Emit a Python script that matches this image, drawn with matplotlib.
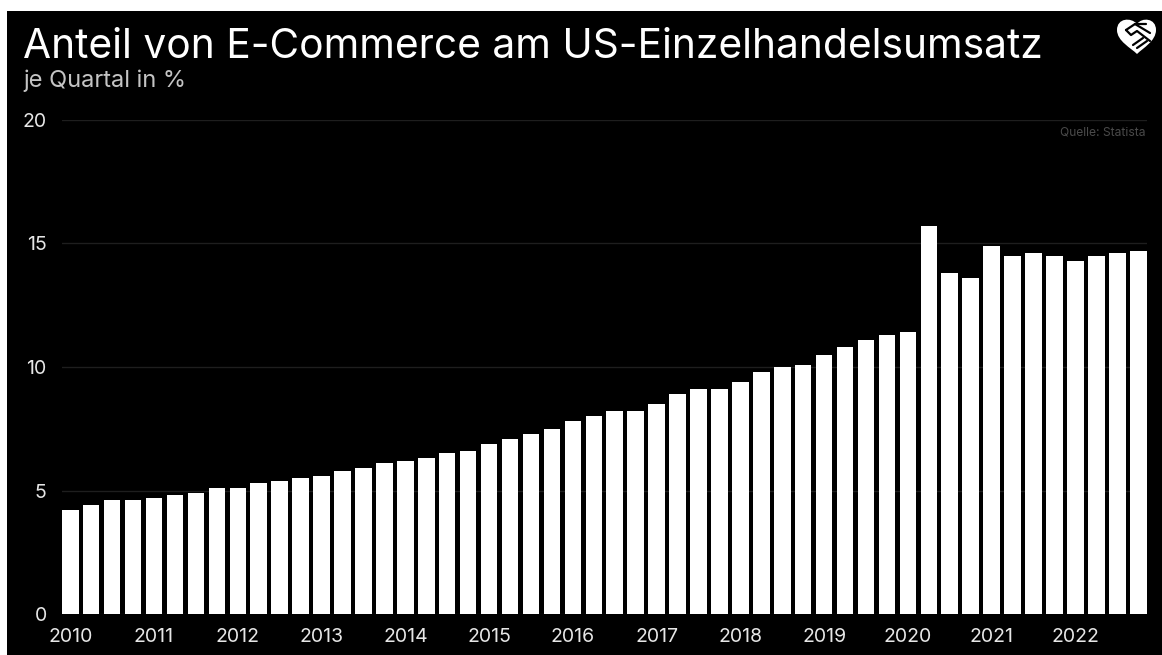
import matplotlib
matplotlib.use("Agg")
from matplotlib import pyplot as plt
from matplotlib.patches import PathPatch, Rectangle
from matplotlib.path import Path
import numpy as np

FONT = ["Inter", "DejaVu Sans"]
W, H = 1162, 655

# ------------------------------
# Data
# ------------------------------
years = [2010, 2011, 2012, 2013, 2014, 2015, 2016, 2017, 2018, 2019, 2020, 2021, 2022]
shares_2010_2014 = [4.2, 4.4, 4.6, 4.6, 4.7, 4.8, 4.9, 5.1, 5.1, 5.3,
                    5.4, 5.5, 5.6, 5.8, 5.9, 6.1, 6.2, 6.3, 6.5, 6.6]
shares_2015_2019 = [6.9, 7.1, 7.3, 7.5, 7.8, 8.0, 8.2, 8.2, 8.5, 8.9,
                    9.1, 9.1, 9.4, 9.8, 10.0, 10.1, 10.5, 10.8, 11.1, 11.3]
shares_2020_2022 = [11.4, 15.7, 13.8, 13.6, 14.9, 14.5, 14.6, 14.5, 14.3, 14.5, 14.6, 14.7]
y_ticks = [0, 5, 10, 15, 20]

shares = shares_2010_2014 + shares_2015_2019 + shares_2020_2022
quarters = np.arange(len(shares))

fig = plt.figure(figsize=(W / 100, H / 100), dpi=100, facecolor="white")

# ------------------------------
# Black panel and header (pixel coordinates)
# ------------------------------
deco = fig.add_axes([0, 0, 1, 1])
deco.set_xlim(0, W)
deco.set_ylim(H, 0)
deco.axis("off")
deco.add_patch(Rectangle((7, 11), W - 7, H - 11, facecolor="black", edgecolor="none"))

deco.text(23, 58, "Anteil von E-Commerce am US-Einzelhandelsumsatz", color="white",
          fontsize=29.3, family=FONT, va="baseline", ha="left")
deco.text(23, 87, "je Quartal in %", color="#c4c4c4", fontsize=17, family=FONT,
          va="baseline", ha="left")
deco.text(1146, 132, "Quelle: Statista", color="#4a4a4a", fontsize=8.7, family=FONT,
          va="center", ha="right")

# Heart logo with the handshake cut out
heart = [
    (Path.MOVETO, (1137, 54)),
    (Path.CURVE4, (1131, 48)), (Path.CURVE4, (1117, 41)), (Path.CURVE4, (1117, 30)),
    (Path.CURVE4, (1117, 18)), (Path.CURVE4, (1131, 17)), (Path.CURVE4, (1137, 24)),
    (Path.CURVE4, (1142, 17)), (Path.CURVE4, (1156, 18)), (Path.CURVE4, (1156, 30)),
    (Path.CURVE4, (1156, 41)), (Path.CURVE4, (1143, 48)), (Path.CURVE4, (1137, 54)),
    (Path.CLOSEPOLY, (1137, 54)),
]
codes, verts = zip(*heart)
deco.add_patch(PathPatch(Path(verts, codes), facecolor="white", edgecolor="none"))
hand_lines = [
    ((1126, 30), (1135, 24), (1146, 24)),
    ((1126, 30), (1131, 35), (1137, 31), (1150, 41)),
    ((1135, 24), (1150, 33)),
    ((1133, 45), (1143, 38)),
    ((1137, 48), (1147, 41)),
]
for pts in hand_lines:
    xs, ys = zip(*pts)
    deco.plot(xs, ys, color="black", lw=1.6, solid_capstyle="round")

# ------------------------------
# Bars
# ------------------------------
left_px, right_px = 62.0, 1146.5
top_px, bottom_px = 120.0, 614.0
ax = fig.add_axes([left_px / W, 1 - bottom_px / H,
                   (right_px - left_px) / W, (bottom_px - top_px) / H])
ax.patch.set_alpha(0)
ax.bar(quarters, shares, width=0.79, color="white", zorder=3)
ax.set_xlim(-0.395, len(shares) - 1 + 0.395)
ax.set_ylim(0, 20)

ax.set_yticks(y_ticks)
ax.set_xticks(quarters[::4])
ax.set_xticklabels(years)
ax.grid(axis="y", color="#1e1e1e", lw=1, zorder=1)
ax.grid(axis="x", visible=False)
ax.tick_params(axis="both", length=0, labelcolor="#e6e6e6", labelsize=14)
ax.tick_params(axis="y", pad=11)
ax.tick_params(axis="x", pad=10)
for label in ax.get_xticklabels() + ax.get_yticklabels():
    label.set_fontfamily(FONT)
for spine in ax.spines.values():
    spine.set_visible(False)

fig.savefig("out.png", dpi=100, facecolor="white")
